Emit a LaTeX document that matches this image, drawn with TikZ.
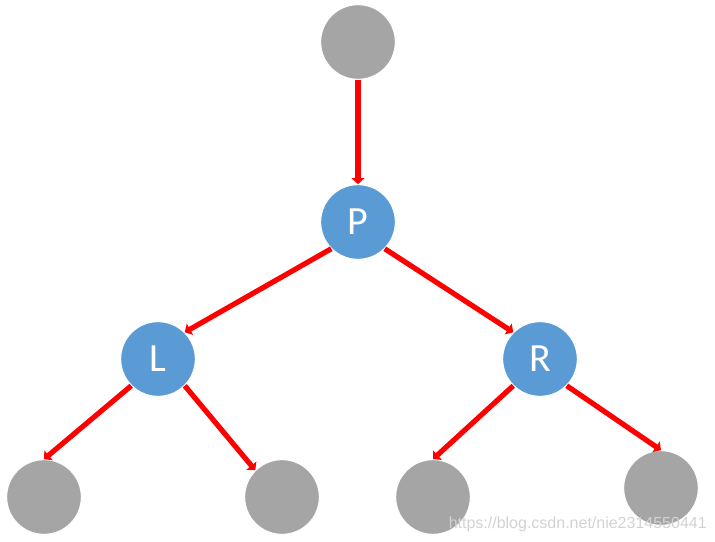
\documentclass[tikz,border=0pt]{standalone}
\usepackage{fontspec}
\setmainfont{Carlito}
\newfontfamily\wmfont{Liberation Sans}
\usetikzlibrary{arrows.meta,positioning}
\definecolor{nodeblue}{HTML}{5B9BD5}
\definecolor{nodegray}{HTML}{A5A5A5}
\tikzset{
  bt/node/.style={circle, draw=white, line width=0.75pt, minimum size=56pt, inner sep=0pt, text=white, font=\fontsize{30}{31}\selectfont},
  bt/key/.style={bt/node, fill=nodeblue},
  bt/sub/.style={bt/node, fill=nodegray},
  bt/edge/.style={draw=red, line width=3.9pt, -{Triangle[length=4.5pt,width=9.5pt]}},
  bt/mark/.style={font=\wmfont\fontsize{12}{12}\selectfont, text=gray!35, anchor=base east, inner sep=0pt}
}

\begin{document}
\begin{tikzpicture}[x=0.75pt, y=-0.75pt]
  \useasboundingbox (0,0) rectangle (715,542);
  % tree nodes
  \node[bt/sub] (G) at (358,42) {};
  \node[bt/key] (P) at (358,222) {P};
  \node[bt/key] (L) at (158,359) {L};
  \node[bt/key] (R) at (540,359) {R};
  \node[bt/sub] (LL) at (44,497) {};
  \node[bt/sub] (LR) at (282,497) {};
  \node[bt/sub] (RL) at (433,497) {};
  \node[bt/sub] (RR) at (661,488) {};
  % edges
  \draw[bt/edge] (G.south) -- (P.north);
  \draw[bt/edge] (P.south west) -- (L.north east);
  \draw[bt/edge] (P.south east) -- (R.north west);
  \draw[bt/edge] (L.south west) -- (LL.north);
  \draw[bt/edge] (L.south east) -- (LR.north west);
  \draw[bt/edge] (R.south west) -- (RL.north);
  \draw[bt/edge] (R.south east) -- (RR.north);

  \node[bt/mark] (url) at (707,528) {https://blog.csdn.net/nie2314550441};
\end{tikzpicture}
\end{document}
